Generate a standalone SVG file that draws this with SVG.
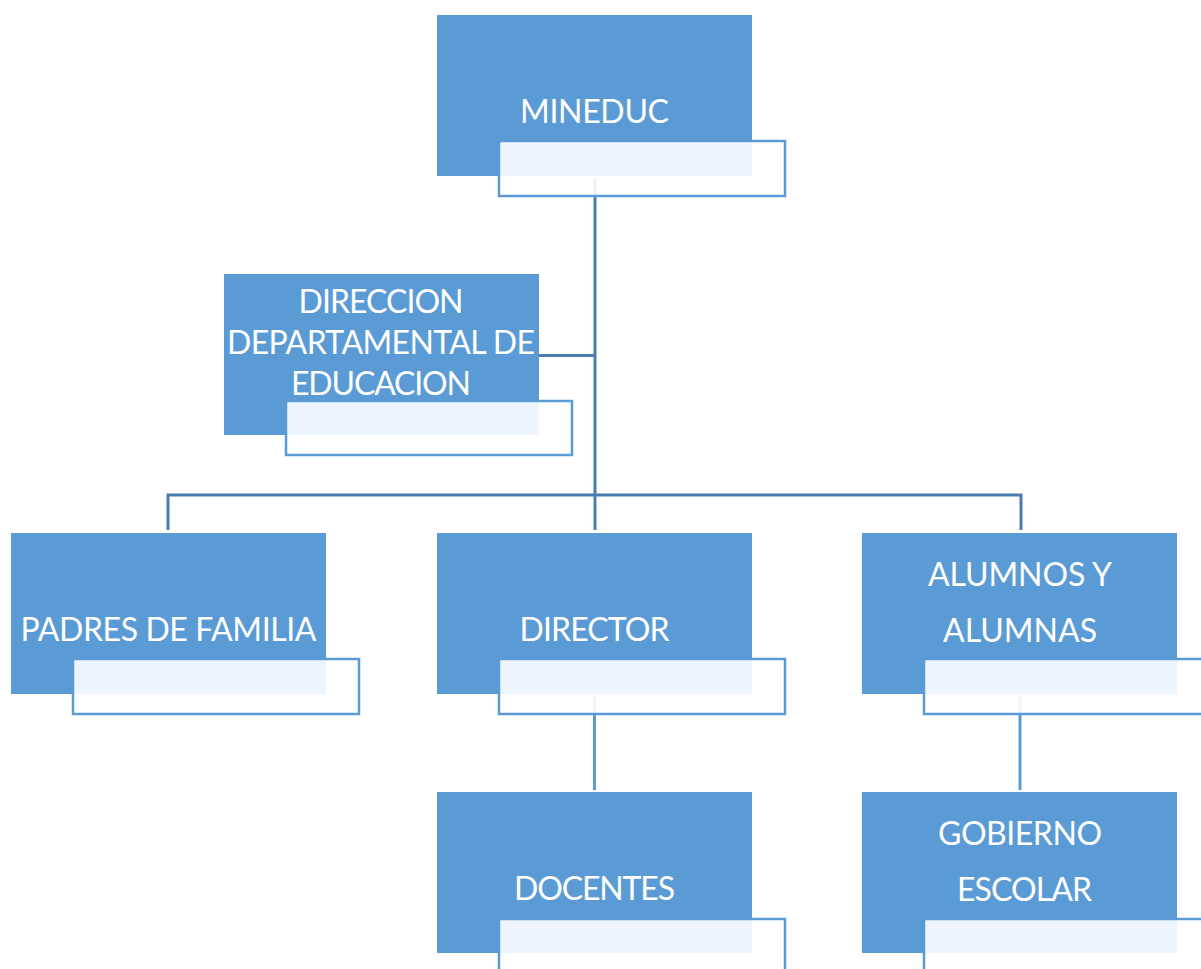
<svg xmlns="http://www.w3.org/2000/svg" width="1201" height="969" viewBox="0 0 1201 969">
<style>
.box{fill:#5B9BD5;}
.pale{fill:#FFFFFF;fill-opacity:0.89;stroke:#5B9BD5;stroke-width:2.5;}
.lbl{font-family:Lato,"Open Sans","Liberation Sans",sans-serif;font-size:32px;fill:#FFFFFF;text-anchor:middle;}
.main{fill:none;stroke:#4A7EB2;stroke-width:3;}
.sub{fill:none;stroke:#5B9BD5;stroke-width:3;}
</style>
<rect width="1201" height="969" fill="#FFFFFF"/>
<g id="connectors">
<path class="main" d="M595 179 V495"/>
<path class="main" d="M539 355.5 H595"/>
<path class="main" d="M168 530 V495 H1021 V530"/>
<path class="main" d="M595 495 V530"/>
<path class="sub" d="M594.5 697 V790"/>
<path class="sub" d="M1020 697 V790"/>
</g>
<g id="mineduc">
<rect class="box" x="437" y="15" width="315" height="161"/>
<text class="lbl" x="594.5" y="123" textLength="149">MINEDUC</text>
<rect class="pale" x="499" y="141" width="286" height="55"/>
</g>
<g id="direccion">
<rect class="box" x="224" y="274" width="315" height="161"/>
<text class="lbl" x="381" y="313" textLength="165">DIRECCION</text>
<text class="lbl" x="381" y="354" textLength="308">DEPARTAMENTAL DE</text>
<text class="lbl" x="381" y="395" textLength="180">EDUCACION</text>
<rect class="pale" x="286" y="401" width="286" height="54"/>
</g>
<g id="padres">
<rect class="box" x="11" y="533" width="315" height="161"/>
<text class="lbl" x="168.5" y="641" textLength="296">PADRES DE FAMILIA</text>
<rect class="pale" x="73" y="659" width="286" height="55"/>
</g>
<g id="director">
<rect class="box" x="437" y="533" width="315" height="161"/>
<text class="lbl" x="594.5" y="641" textLength="150">DIRECTOR</text>
<rect class="pale" x="499" y="659" width="286" height="55"/>
</g>
<g id="alumnos">
<rect class="box" x="862" y="533" width="315" height="161"/>
<text class="lbl" x="1020" y="586" textLength="184">ALUMNOS Y</text>
<text class="lbl" x="1020" y="642" textLength="154">ALUMNAS</text>
<rect class="pale" x="924" y="659" width="286" height="55"/>
</g>
<g id="docentes">
<rect class="box" x="437" y="792" width="315" height="161"/>
<text class="lbl" x="594.5" y="900" textLength="161">DOCENTES</text>
<rect class="pale" x="499" y="919" width="286" height="55"/>
</g>
<g id="gobierno">
<rect class="box" x="862" y="792" width="315" height="161"/>
<text class="lbl" x="1020" y="845" textLength="164">GOBIERNO</text>
<text class="lbl" x="1024.5" y="901" textLength="135">ESCOLAR</text>
<rect class="pale" x="924" y="919" width="286" height="55"/>
</g>
</svg>
